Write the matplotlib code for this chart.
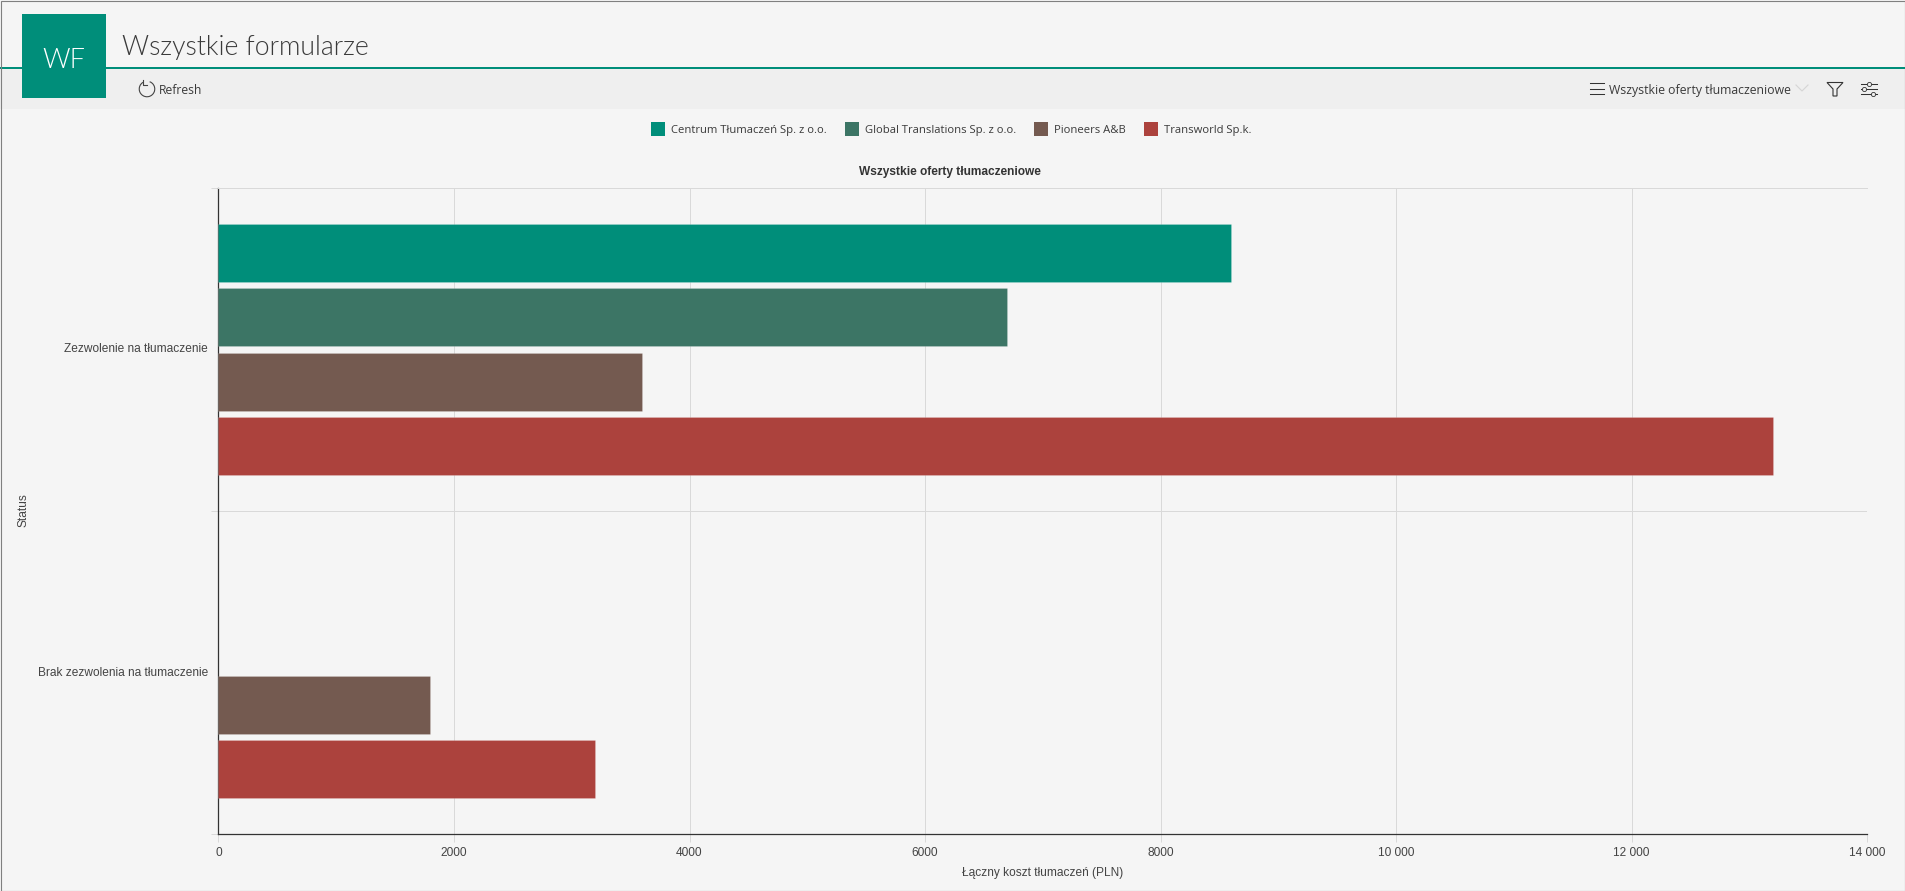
import matplotlib
matplotlib.use('Agg')
import matplotlib.pyplot as plt
from matplotlib.patches import Rectangle, Arc, Polygon

# dane
statuses = ['Zezwolenie na tłumaczenie', 'Brak zezwolenia na tłumaczenie']
companies = ['Centrum Tłumaczeń Sp. z o.o.', 'Global Translations Sp. z o.o.', 'Pioneers A&B', 'Transworld Sp.k.']
centrum = [8600, 0]
global_tr = [6700, 0]
pioneers = [3600, 1800]
transworld = [13200, 3200]
x_ticks = [0, 2000, 4000, 6000, 8000, 10000, 12000, 14000]
x_tick_labels = ['0', '2000', '4000', '6000', '8000', '10 000', '12 000', '14 000']

colors = ['#008e7a', '#3c7565', '#745a50', '#ac423d']
bg = '#f5f5f5'
W, H = 1906, 891
text_font = ['Open Sans', 'DejaVu Sans']
title_font = ['Lato', 'Open Sans', 'DejaVu Sans']
chart_font = ['Liberation Sans', 'DejaVu Sans']

fig = plt.figure(figsize=(W / 100, H / 100), dpi=100, facecolor=bg)

# warstwa na naglowek strony, wspolrzedne w pikselach
page = fig.add_axes([0, 0, 1, 1], zorder=0)
page.set_xlim(0, W)
page.set_ylim(H, 0)
page.axis('off')
page.add_patch(Rectangle((0, 69), W, 40, fc='#efefef', ec='none'))
page.add_patch(Rectangle((0, 67), W, 2, fc='#008e7a', ec='none'))
page.add_patch(Rectangle((22, 14), 84, 84, fc='#008e7a', ec='none', zorder=3))
page.text(64, 68, 'WF', color='white', fontsize=19.5, family=title_font, fontweight=300,
          ha='center', va='baseline', zorder=4)
page.text(122, 54.5, 'Wszystkie formularze', color='#3a3a3a', fontsize=19.2, family=title_font,
          fontweight=300, ha='left', va='baseline')

# ikona refresh
page.add_patch(Arc((147, 89), 15.5, 15.5, theta1=-70, theta2=240, color='#444444', lw=0.8))
page.plot([143, 143, 147], [80, 84.5, 84.5], color='#444444', lw=0.8)
page.text(159, 94, 'Refresh', color='#3a3a3a', fontsize=8.7, family=text_font, va='baseline')

# prawa strona paska
for y in [82.7, 88.5, 94.3]:
    page.plot([1590, 1604], [y, y], color='#333333', lw=0.75)
page.text(1609, 94, 'Wszystkie oferty tłumaczeniowe', color='#3a3a3a', fontsize=8.8, family=text_font, va='baseline')
page.plot([1796, 1802, 1808], [85, 91, 85], color='#d5d5d5', lw=0.8)
page.add_patch(Polygon([(1827, 82.5), (1843, 82.5), (1837, 89), (1837, 96), (1833, 96), (1833, 89)],
                       fc='none', ec='#333333', lw=0.8))
for y, kx in zip([83.5, 88.5, 93.5], [1869, 1864, 1873]):
    page.plot([1861, 1877], [y, y], color='#333333', lw=0.75)
    page.plot([kx], [y], 'o', ms=3, mfc='#efefef', mec='#333333', mew=0.6)

# legenda
legend_x = [651, 845, 1034, 1144]
for name, c, lx in zip(companies, colors, legend_x):
    page.add_patch(Rectangle((lx, 122), 14, 14, fc=c, ec='none'))
    page.text(lx + 20, 133.3, name, color='#3a3a3a', fontsize=8.1, family=text_font, va='baseline')

page.text(950, 172, 'Wszystkie oferty tłumaczeniowe', color='#333333', fontsize=8.6, fontweight='bold',
          family=chart_font, ha='center', va='center')
page.text(1043, 873, 'Łączny koszt tłumaczeń (PLN)', color='#444444', fontsize=8.6, family=chart_font,
          ha='center', va='center')
page.text(23.5, 510, 'Status', color='#444444', fontsize=8.6, family=chart_font, rotation=90,
          ha='center', va='center')
page.add_patch(Rectangle((0.5, 0.5), W - 1, H - 1, fc='none', ec='#808080', lw=0.8, zorder=6))

# wykres
ax = fig.add_axes([218.5 / W, 1 - 834 / H, 1648.5 / W, 646 / H], zorder=2)
ax.patch.set_alpha(0)
series = [centrum, global_tr, pioneers, transworld]
for i, (vals, c) in enumerate(zip(series, colors)):
    ys = [j - 0.3 + i * 0.2 for j in range(len(statuses))]
    for y, v in zip(ys, vals):
        if v > 0:
            ax.barh(y, v, height=0.18, color=c, edgecolor='#ffffff30', linewidth=0.6, zorder=3)

ax.set_xlim(0, 14000)
ax.set_ylim(1.5, -0.5)
ax.set_xticks(x_ticks)
ax.set_xticklabels(x_tick_labels, family=chart_font, fontsize=8.6, color='#444444')
ax.set_yticks(range(len(statuses)))
ax.set_yticklabels(statuses, family=chart_font, fontsize=8.6, color='#444444')
ax.set_yticks([-0.5, 0.5, 1.5], minor=True)
ax.grid(axis='x', color='#d9d9d9', lw=0.72, zorder=0)
ax.grid(axis='y', which='minor', color='#d9d9d9', lw=0.72, zorder=0)
ax.tick_params(axis='x', length=6, width=0.72, color='#d9d9d9', pad=3)
ax.tick_params(axis='y', which='major', length=0, pad=7.5)
ax.tick_params(axis='y', which='minor', length=5, width=0.72, color='#d9d9d9')
for label in ax.get_yticklabels():
    label.set_verticalalignment('center')
ax.spines['top'].set_color('#d9d9d9')
ax.spines['top'].set_linewidth(0.72)
ax.spines['right'].set_visible(False)
ax.spines['left'].set_color('#333333')
ax.spines['bottom'].set_color('#333333')
ax.spines['left'].set_linewidth(0.9)
ax.spines['bottom'].set_linewidth(0.9)

fig.savefig('out.png', dpi=100, facecolor=bg)
